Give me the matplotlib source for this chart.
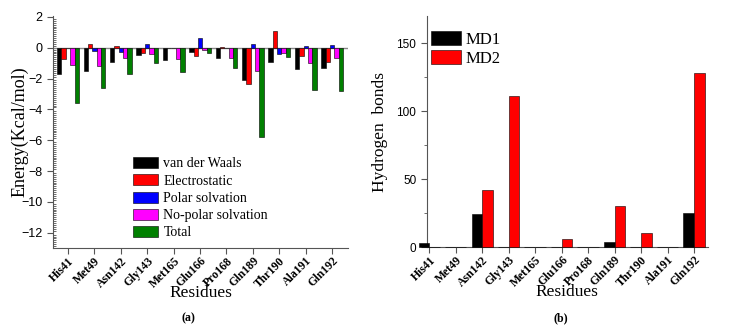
import matplotlib
matplotlib.use("Agg")
import matplotlib.pyplot as plt
from matplotlib.ticker import MultipleLocator
import numpy as np

# ── data ─────────────────────────────────────────────────────────────────────
residues = ["His41", "Met49", "Asn142", "Gly143", "Met165", "Glu166",
            "Pro168", "Gln189", "Thr190", "Ala191", "Gln192"]

vdw      = [-1.69, -1.52, -0.95, -0.45, -0.82, -0.28, -0.65, -2.08, -0.95, -1.37, -1.32]
elec     = [-0.75,  0.22,  0.13, -0.37,  0.00, -0.57,  0.03, -2.38,  1.09, -0.54, -0.95]
polar    = [ 0.00, -0.20, -0.26,  0.22,  0.00,  0.61,  0.00,  0.22, -0.43,  0.11,  0.17]
nonpolar = [-1.15, -1.17, -0.69, -0.41, -0.76, -0.13, -0.69, -1.52, -0.35, -0.97, -0.69]
total    = [-3.58, -2.62, -1.71, -1.02, -1.60, -0.35, -1.30, -5.79, -0.63, -2.73, -2.78]

energy_labels = ["van der Waals", "Electrostatic", "Polar solvation",
                 "No-polar solvation", "Total"]

md1 = [3, 0, 24, 0, 0, 0, 0, 4, 0, 0, 25]
md2 = [0, 0, 42, 111, 0, 6, 0, 30, 10, 0, 128]

# ── style ────────────────────────────────────────────────────────────────────
SERIF = "Liberation Serif"
SANS = "Liberation Sans"
E_COLORS = ["#000000", "#ff0000", "#0000ff", "#ff00ff", "#008000"]
SPINE = "#555555"

fig = plt.figure(figsize=(7.45, 3.29), dpi=100)
ax_e = fig.add_axes([0.0711, 0.246, 0.396, 0.705])
ax_h = fig.add_axes([0.5727, 0.249, 0.3773, 0.702])

x = np.arange(1, len(residues) + 1)

# ── left panel: energy decomposition ─────────────────────────────────────────
w = 0.165
series = [vdw, elec, polar, nonpolar, total]
for k, (vals, col, lab) in enumerate(zip(series, E_COLORS, energy_labels)):
    ax_e.bar(x + (k - 2) * w, vals, w, color=col, edgecolor="black",
             linewidth=0.4, label=lab, zorder=3)
ax_e.axhline(0, color="#888888", linewidth=1.0, zorder=2)

ax_e.set_xlim(0.43, 11.6)
ax_e.set_ylim(-13, 2.05)
ax_e.yaxis.set_major_locator(MultipleLocator(2))
ax_e.yaxis.set_minor_locator(MultipleLocator(0.125))
ax_e.set_xticks(x)
ax_e.set_xticklabels(residues, rotation=45, ha="right", rotation_mode="anchor",
                     fontfamily=SERIF, fontweight="bold", fontsize=8.5)
ax_e.tick_params(axis="y", which="major", direction="out", length=4,
                 labelsize=9, color=SPINE)
ax_e.tick_params(axis="y", which="minor", direction="in", length=2, color=SPINE)
ax_e.tick_params(axis="x", direction="out", length=4, color=SPINE, pad=1)
for t in ax_e.get_yticklabels():
    t.set_fontfamily(SANS)
ax_e.set_ylabel("Energy(Kcal/mol)", fontfamily=SERIF, fontsize=13, labelpad=-5)
ax_e.set_xlabel("Residues", fontfamily=SERIF, fontsize=12.5, labelpad=-4)
for s in ["top", "right"]:
    ax_e.spines[s].set_visible(False)
for s in ["left", "bottom"]:
    ax_e.spines[s].set_color(SPINE)

ax_e.legend(loc="upper left", bbox_to_anchor=(0.271, 0.392), frameon=False,
            borderaxespad=0, borderpad=0, handlelength=1.8, handleheight=0.85,
            labelspacing=0.28, handletextpad=0.4,
            prop={"family": SERIF, "size": 10})

# ── right panel: hydrogen bonds ──────────────────────────────────────────────
bw = 0.405
ax_h.bar(x, md1, -bw, align="edge", color="black", edgecolor="black",
         linewidth=0.4, label="MD1", zorder=3, clip_on=False)
ax_h.bar(x, md2, bw, align="edge", color="#ff0000", edgecolor="black",
         linewidth=0.4, label="MD2", zorder=3, clip_on=False)

ax_h.set_xlim(0.9, 11.52)
ax_h.set_ylim(0, 170)
ax_h.yaxis.set_major_locator(MultipleLocator(50))
ax_h.yaxis.set_minor_locator(MultipleLocator(25))
ax_h.set_xticks(x)
ax_h.set_xticklabels(residues, rotation=45, ha="right", rotation_mode="anchor",
                     fontfamily=SERIF, fontweight="bold", fontsize=8.5)
ax_h.tick_params(axis="y", which="major", direction="out", length=4,
                 labelsize=8.5, color=SPINE)
ax_h.tick_params(axis="y", which="minor", direction="out", length=2, color=SPINE)
ax_h.tick_params(axis="x", direction="out", length=4, color=SPINE, pad=1)
for t in ax_h.get_yticklabels():
    t.set_fontfamily(SANS)
ax_h.set_ylabel("Hydrogen  bonds", fontfamily=SERIF, fontsize=12.5, labelpad=6)
ax_h.set_xlabel("Residues", fontfamily=SERIF, fontsize=12.5, labelpad=-4)
for s in ["top", "right"]:
    ax_h.spines[s].set_visible(False)
for s in ["left", "bottom"]:
    ax_h.spines[s].set_color(SPINE)

ax_h.legend(loc="upper left", bbox_to_anchor=(0.015, 0.935), frameon=False,
            borderaxespad=0, borderpad=0, handlelength=1.8, handleheight=0.87,
            labelspacing=0.15, handletextpad=0.25,
            prop={"family": SERIF, "size": 12})

# ── panel captions ───────────────────────────────────────────────────────────
fig.text(188 / 745, 1 - 318 / 329, "(a)", ha="center", va="center",
         fontfamily=SERIF, fontweight="bold", fontsize=8.5)
fig.text(561 / 745, 1 - 318 / 329, "(b)", ha="center", va="center",
         fontfamily=SERIF, fontweight="bold", fontsize=8.5)

fig.savefig("out.png", dpi=100)
